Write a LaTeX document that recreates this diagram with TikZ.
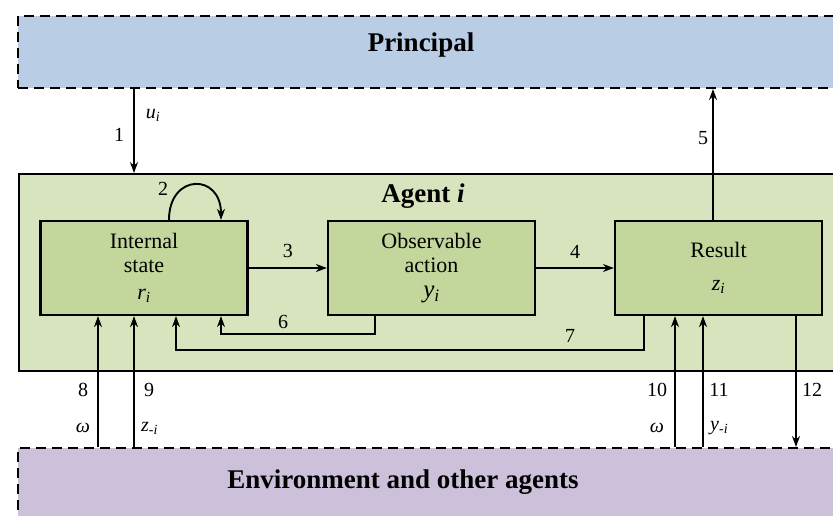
\documentclass[tikz,border=0pt]{standalone}
\usepackage{fontspec}
\setmainfont{Liberation Serif}
\usepackage{xcolor}
\usetikzlibrary{arrows.meta,positioning}

\definecolor{principalblue}{RGB}{185,205,229}
\definecolor{agentgreen}{RGB}{215,228,189}
\definecolor{boxgreen}{RGB}{195,214,155}
\definecolor{envpurple}{RGB}{204,192,218}

\newcommand{\bodyfont}{\fontsize{22}{24}\selectfont}
\newcommand{\headfont}{\fontsize{27}{30}\selectfont\bfseries}
\newcommand{\numfont}{\fontsize{20}{22}\selectfont}
\newcommand{\varsub}[2]{\textit{#1}\textsubscript{\textit{#2}}}

\begin{document}
\begin{tikzpicture}[
    x=1pt,
    y=-1pt,
    >=Stealth,
    outerbox/.style={draw, line width=2pt, dash pattern=on 10pt off 6pt,
        anchor=north west, inner sep=0pt},
    agentbox/.style={draw, line width=2.2pt, fill=agentgreen,
        anchor=north west, inner sep=0pt},
    innerbox/.style={draw, line width=2.2pt, fill=boxgreen,
        minimum width=207pt, minimum height=94pt, align=center,
        font=\bodyfont},
    flow/.style={-{Stealth[length=11pt,width=8pt]}, line width=1.9pt},
    feedback/.style={-{Stealth[length=11pt,width=8pt]}, line width=1.3pt},
    num/.style={font=\numfont, inner sep=0pt},
    head/.style={font=\headfont, inner sep=0pt}
]
\useasboundingbox (0,0) rectangle (833,516);

% Principal, agent and environment
\node[outerbox, fill=principalblue, minimum width=860pt, minimum height=72pt]
    (principal) at (17,15) {};
\node[head] (principal-label) at (421,45) {Principal};

\node[agentbox, minimum width=860pt, minimum height=197pt]
    (agent) at (18,173) {};
\node[head] (agent-label) at (423,196) {Agent \textit{i}};

\node[outerbox, fill=envpurple, minimum width=860pt, minimum height=100pt]
    (env) at (17,447) {};
\node[head] (env-label) at (403,482) {Environment and other agents};

% Boxes inside the agent
\node[innerbox] (state) at (144,268)
    {Internal\\state\\[3pt]\varsub{r}{i}};
\node[innerbox] (action) at (431.5,268)
    {Observable\\action\\[1pt]{\fontsize{25}{25}\selectfont\varsub{y}{i}}};
\node[innerbox] (result) at (718.5,268)
    {Result\\[9pt]\varsub{z}{i}};

% Principal <-> agent
\draw[flow] (134,0 |- principal.south) -- (134,0 |- agent.north);
\node[num] at (119,135) {1};
\node[num] at (153,115) {\varsub{u}{i}};

\draw[flow] (713,0 |- result.north) -- (713,0 |- principal.south);
\node[num] at (703,138) {5};

% Inside the agent
\draw[flow] (169,0 |- state.north)
    .. controls (169,173) and (221,173) .. (221,0 |- state.north);
\node[num] at (163,189) {2};

\draw[flow] (state) -- (action) node[num, midway, above=9pt] {3};
\draw[flow] (action) -- (result) node[num, midway, above=9pt] {4};

\draw[feedback] (375,0 |- action.south) |- (221,334)
    -- (221,0 |- state.south);
\node[num] at (283,322) {6};

\draw[feedback] (644,0 |- result.south) |- (176,350)
    -- (176,0 |- state.south);
\node[num] at (570,336) {7};

% Environment <-> agent
\draw[flow] (98,0 |- env.north) -- (98,0 |- state.south);
\node[num] at (83,390) {8};
\node[num] at (83,428) {\textit{ω}};

\draw[flow] (134,0 |- env.north) -- (134,0 |- state.south);
\node[num] at (149,390) {9};
\node[num, anchor=west] at (141,428) {\varsub{z}{-i}};

\draw[flow] (675,0 |- env.north) -- (675,0 |- result.south);
\node[num] at (657,390) {10};
\node[num] at (657,428) {\textit{ω}};

\draw[flow] (703,0 |- env.north) -- (703,0 |- result.south);
\node[num] at (719,390) {11};
\node[num, anchor=west] at (710,428) {\varsub{y}{-i}};

\draw[flow] (796,0 |- result.south) -- (796,0 |- env.north);
\node[num] at (812,390) {12};

\end{tikzpicture}
\end{document}
